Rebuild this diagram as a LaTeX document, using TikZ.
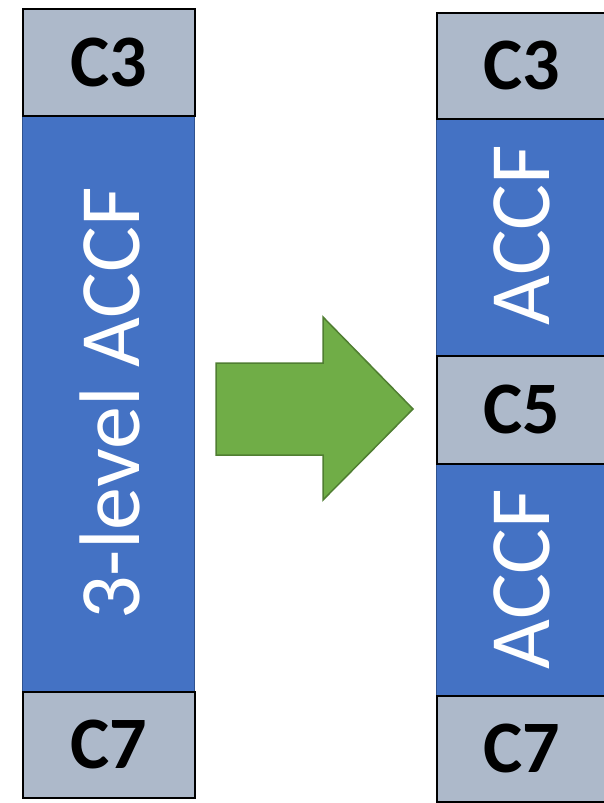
\documentclass[tikz,border=0pt]{standalone}
\usepackage{fontspec}
\setmainfont{Carlito}
\definecolor{cgray}{HTML}{ADB9CA}
\definecolor{cblue}{HTML}{4472C4}
\definecolor{cblueedge}{HTML}{2F528F}
\definecolor{cgreen}{HTML}{70AD47}
\definecolor{cgreenedge}{HTML}{507E32}
\begin{document}
\begin{tikzpicture}[x=1pt,y=-1pt,
  cbox/.style={draw=black, line width=1.8pt, fill=cgray, inner sep=0pt, anchor=north west},
  ctext/.style={inner sep=0pt, font=\fontsize{74}{74}\selectfont\bfseries},
  bbox/.style={draw=cblueedge, line width=1pt, fill=cblue, inner sep=0pt, anchor=north west},
  btext/.style={rotate=90, text=white, inner sep=0pt, font=\fontsize{86}{86}\selectfont}]
\useasboundingbox (0,0) rectangle (604,803);
% left column
\node[bbox, minimum width=172pt, minimum height=576pt] (lb) at (22,115) {};
\node[btext] (lbt) at ([xshift=1pt]lb.center) {3-level ACCF};
\node[cbox, minimum width=172pt, minimum height=107pt] (l3) at (22,8) {};
\node[ctext] (l3t) at (l3.center) {C3};
\node[cbox, minimum width=172pt, minimum height=106pt] (l7) at (22,691) {};
\node[ctext] (l7t) at (l7.center) {C7};
% right column (runs past the right edge of the picture)
\node[bbox, minimum width=190pt, minimum height=237pt] (rb1) at (436,118) {};
\node[btext] (rb1t) at (522,235) {ACCF};
\node[bbox, minimum width=190pt, minimum height=232pt] (rb2) at (436,463) {};
\node[btext] (rb2t) at (522,579) {ACCF};
\node[cbox, minimum width=190pt, minimum height=106pt] (r3) at (436,12) {};
\node[ctext] (r3t) at (522,65) {C3};
\node[cbox, minimum width=190pt, minimum height=108pt] (r5) at (436,355) {};
\node[ctext] (r5t) at (522,409) {C5};
\node[cbox, minimum width=190pt, minimum height=106pt] (r7) at (436,695) {};
\node[ctext] (r7t) at (522,748) {C7};
% arrow
\draw[fill=cgreen, draw=cgreenedge, line width=1.5pt, line join=miter]
  (216,363) -- (323,363) -- (323,317) -- (413,409) -- (323,500) -- (323,455) -- (216,455) -- cycle;
\end{tikzpicture}
\end{document}
